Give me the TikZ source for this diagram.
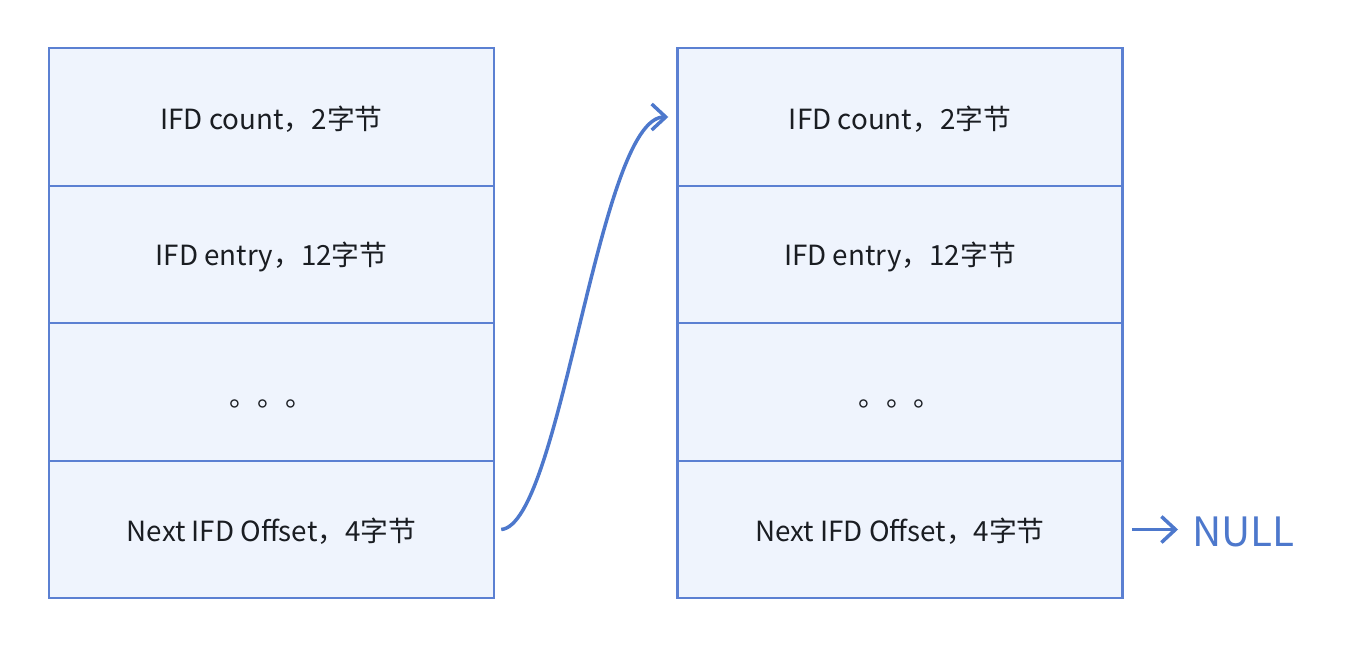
\documentclass[tikz,border=0pt]{standalone}
\usepackage{fontspec}
\setmainfont{Noto Sans CJK SC}
\usetikzlibrary{positioning,arrows.meta}
\definecolor{ifdline}{HTML}{5B80D2}
\definecolor{ifdfill}{HTML}{EFF4FD}
\definecolor{ifdtext}{HTML}{1A1D22}
\definecolor{ifdarrow}{HTML}{4D78CC}
\newcommand{\lowtext}[2]{\raisebox{-#1}[\height][\depth]{#2}}

\begin{document}
\begin{tikzpicture}[>={Straight Barb[length=2.8mm,width=5.2mm]}]
  \useasboundingbox (0,0) rectangle (27,-12.96);
  \tikzset{
    field/.style={draw=ifdline,fill=ifdfill,line width=1.4pt,text=ifdtext,
      minimum width=8.9cm,minimum height=2.75cm,inner sep=0pt,font=\fontsize{15.8}{18}\selectfont}
  }

  % first IFD
  \node[field] (CoA) at (5.43,-2.34) {\lowtext{0.04cm}{IFD count，2字节}};
  \node[field] (EnA) at (5.43,-5.09) {\lowtext{0.04cm}{IFD entry，12字节}};
  \node[field] (DoA) at (5.43,-7.84) {\lowtext{0.24cm}{。。。}};
  \node[field] (NeA) at (5.43,-10.59) {\lowtext{0.04cm}{Next IFD Offset，4字节}};

  % second IFD
  \node[field] (CoB) at (18,-2.34) {\lowtext{0.04cm}{IFD count，2字节}};
  \node[field] (EnB) at (18,-5.09) {\lowtext{0.04cm}{IFD entry，12字节}};
  \node[field] (DoB) at (18,-7.84) {\lowtext{0.24cm}{。。。}};
  \node[field] (NeB) at (18,-10.59) {\lowtext{0.04cm}{Next IFD Offset，4字节}};

  % offset link
  \coordinate (NeAo) at ([xshift=0.12cm]NeA.east);
  \coordinate (CoBi) at ([xshift=-0.16cm]CoB.west);
  \draw[->,draw=ifdarrow,line width=2pt] (NeAo) .. controls ++(1.2,0.1) and ++(-1.4,0) .. (CoBi);

  % end of chain
  \node[text=ifdarrow,anchor=west,inner sep=0pt,font=\fontsize{23}{26}\selectfont] (Nu) at (23.84,-10.64) {NULL};
  \coordinate (NeBo) at ([xshift=0.16cm]NeB.east);
  \draw[->,draw=ifdarrow,line width=2pt] (NeBo) -- ([xshift=-0.28cm]Nu.west |- NeBo);

\end{tikzpicture}
\end{document}
